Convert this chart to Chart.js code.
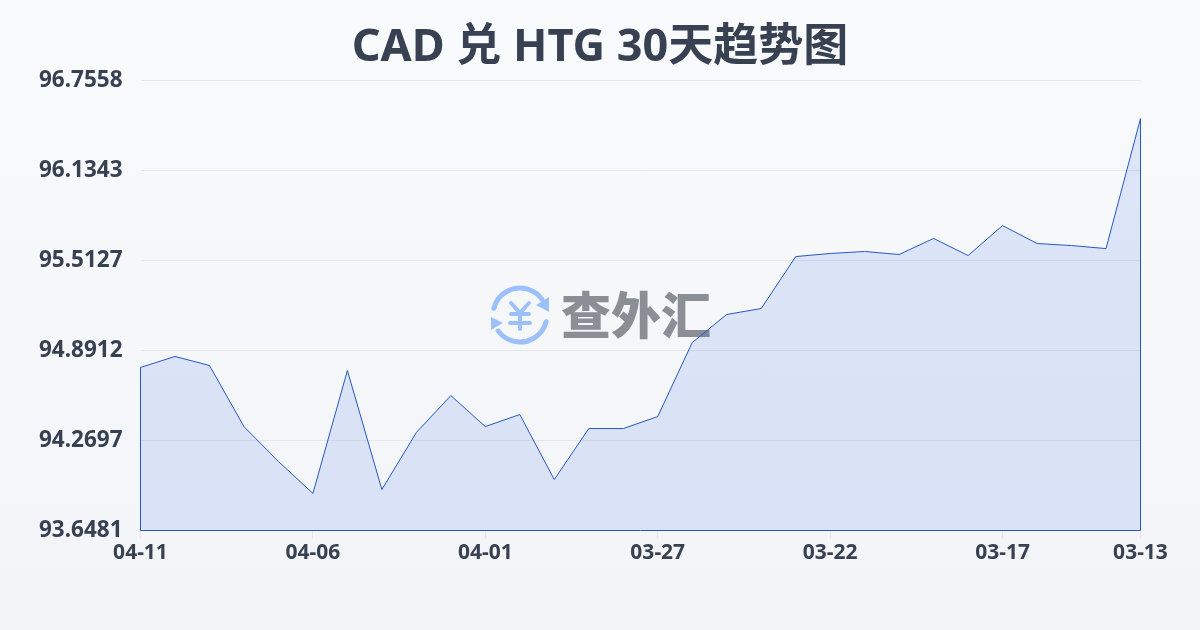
<!DOCTYPE html>
<html>
<head>
<meta charset="utf-8">
<script src="https://cdn.jsdelivr.net/npm/chart.js@4"></script>
<style>
  html, body { margin: 0; padding: 0; }
  body { width: 1200px; height: 630px; overflow: hidden; background: linear-gradient(180deg, #f9fafc 0%, #f3f4f7 100%); }
  canvas { display: block; }
</style>
</head>
<body>
<canvas id="chart" width="1200" height="630"></canvas>
<script>
const titleText = 'CAD 兑 HTG 30天趋势图';
const watermarkText = '查外汇';
const dates = ['04-11','04-10','04-09','04-08','04-07','04-06','04-05','04-04','04-03','04-02',
  '04-01','03-31','03-30','03-29','03-28','03-27','03-26','03-25','03-24','03-23',
  '03-22','03-21','03-20','03-19','03-18','03-17','03-16','03-15','03-14','03-13'];
const rates = [94.774,94.850,94.788,94.366,94.125,93.904,94.753,93.931,94.325,94.580,
  94.366,94.449,94.000,94.352,94.352,94.435,94.946,95.140,95.181,95.540,
  95.561,95.575,95.554,95.665,95.547,95.754,95.630,95.616,95.595,96.493];
const yTicks = [93.6481,94.2697,94.8912,95.5127,96.1343,96.7558];
const xTickIndexes = [0,5,10,15,20,25,29];

const lineColor = '#2558c2';
const fontFamily = '"Noto Sans", "Noto Sans CJK SC", sans-serif';

// 水印：图标 + 文字，画在面积图下面
const watermark = {
  id: 'watermark',
  beforeDatasetsDraw(chart) {
    const ctx = chart.ctx;
    const cx = 520, cy = 315, r = 27;
    ctx.save();
    ctx.strokeStyle = '#9cc0f8';
    ctx.fillStyle = '#9cc0f8';
    ctx.lineWidth = 5;
    ctx.lineCap = 'round';
    ctx.lineJoin = 'round';
    ctx.beginPath();
    ctx.arc(cx, cy, r, Math.PI * 1.08, Math.PI * 1.8);
    ctx.stroke();
    ctx.beginPath();
    ctx.arc(cx, cy, r, Math.PI * 0.08, Math.PI * 0.8);
    ctx.stroke();
    // 箭头
    ctx.beginPath();
    ctx.moveTo(549, 297); ctx.lineTo(549, 312); ctx.lineTo(536, 305);
    ctx.closePath(); ctx.fill();
    ctx.beginPath();
    ctx.moveTo(491, 317); ctx.lineTo(491, 330); ctx.lineTo(503, 323);
    ctx.closePath(); ctx.fill();
    // ¥
    ctx.lineWidth = 4;
    ctx.beginPath();
    ctx.moveTo(511, 303); ctx.lineTo(520, 313); ctx.lineTo(529, 303);
    ctx.moveTo(511, 314); ctx.lineTo(529, 314);
    ctx.moveTo(510, 323); ctx.lineTo(530, 323);
    ctx.moveTo(520, 313); ctx.lineTo(520, 329);
    ctx.stroke();
    ctx.fillStyle = '#8b8e95';
    ctx.font = '900 50px "Noto Sans CJK SC", sans-serif';
    ctx.textAlign = 'left';
    ctx.textBaseline = 'middle';
    ctx.fillText(watermarkText, 561, 315);
    ctx.restore();
  }
};

// 面积边框：左、下、右也要描边
const areaEdge = {
  id: 'areaEdge',
  afterDatasetsDraw(chart) {
    const ctx = chart.ctx;
    const y = chart.scales.y;
    const a = chart.chartArea;
    ctx.save();
    ctx.strokeStyle = lineColor;
    ctx.lineWidth = 1;
    ctx.beginPath();
    ctx.moveTo(a.left, y.getPixelForValue(rates[0]));
    ctx.lineTo(a.left, a.bottom);
    ctx.lineTo(a.right, a.bottom);
    ctx.lineTo(a.right, y.getPixelForValue(rates[rates.length - 1]));
    ctx.stroke();
    ctx.restore();
  }
};

new Chart(document.getElementById('chart'), {
  type: 'line',
  data: {
    labels: dates,
    datasets: [{
      data: rates,
      borderColor: lineColor,
      borderWidth: 1,
      backgroundColor: 'rgba(37, 99, 235, 0.13)',
      fill: 'start',
      tension: 0,
      pointRadius: 0
    }]
  },
  options: {
    responsive: false,
    animation: false,
    plugins: {
      legend: { display: false },
      tooltip: { enabled: false },
      title: {
        display: true,
        text: titleText,
        color: '#374151',
        font: { family: fontFamily, size: 45, weight: 'bold' },
        padding: { top: 21, bottom: 5.5 }
      }
    },
    scales: {
      x: {
        offset: false,
        border: { display: false },
        grid: { drawOnChartArea: false, drawTicks: true, tickLength: 8, color: '#e5e7eb' },
        ticks: {
          autoSkip: false,
          maxRotation: 0,
          padding: 2,
          color: '#374151',
          font: { family: fontFamily, size: 21, weight: 'bold' }
        },
        afterBuildTicks(scale) {
          scale.ticks = xTickIndexes.map(i => ({ value: i }));
        },
        afterFit(scale) { scale.height = 99.5; }
      },
      y: {
        min: yTicks[0],
        max: yTicks[yTicks.length - 1],
        border: { display: false },
        grid: { color: '#e5e7eb', lineWidth: 1, drawTicks: false },
        ticks: {
          padding: 18,
          color: '#374151',
          font: { family: fontFamily, size: 22.5, weight: 'bold' },
          callback: v => v.toFixed(4)
        },
        afterBuildTicks(scale) {
          scale.ticks = yTicks.map(v => ({ value: v }));
        },
        afterFit(scale) { scale.width = 140.5; }
      },
      // 右侧留白，让标题居中于整张图
      yRight: {
        position: 'right',
        border: { display: false },
        grid: { display: false },
        ticks: { display: false },
        afterFit(scale) { scale.width = 59.5; }
      }
    }
  },
  plugins: [watermark, areaEdge]
});
</script>
</body>
</html>
